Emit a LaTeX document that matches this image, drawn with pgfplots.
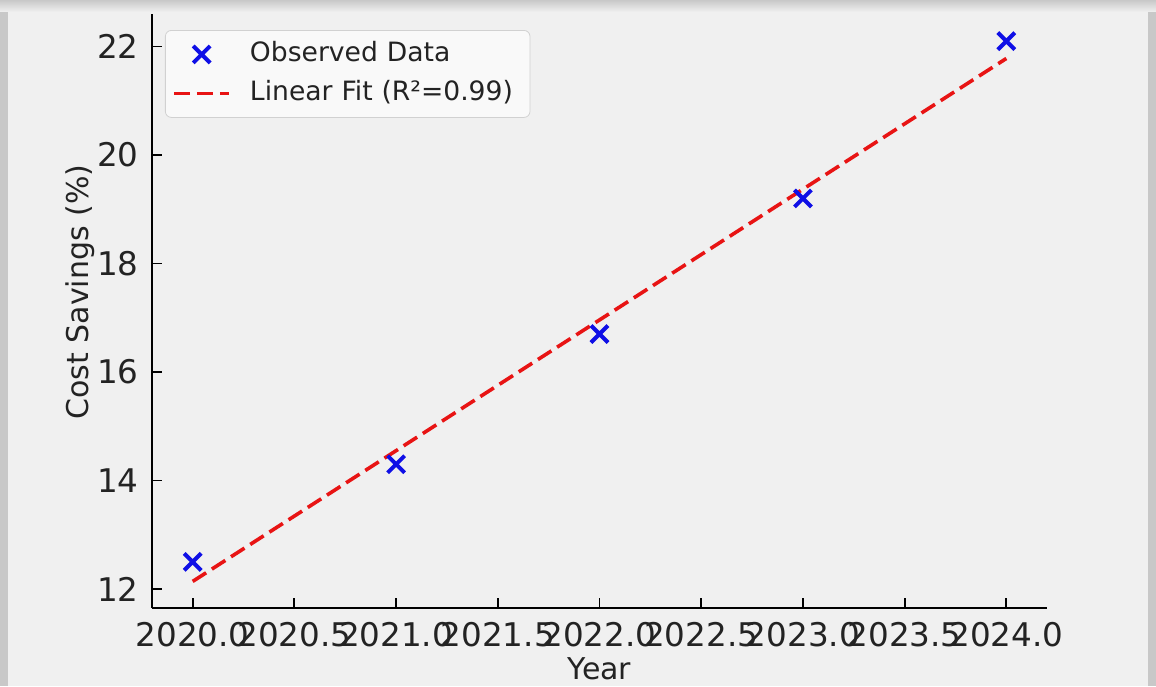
\documentclass[border=0pt]{standalone}
\usepackage{fontspec}
\setmainfont{DejaVu Sans}
\usepackage{pgfplots}
\pgfplotsset{compat=1.18}
\definecolor{panel}{RGB}{240,240,240}
\definecolor{shadowgray}{RGB}{200,200,200}
\definecolor{fitred}{RGB}{232,20,20}
\definecolor{obsblue}{RGB}{15,15,230}
\definecolor{txt}{RGB}{35,35,35}
\pgfplotsset{
  markleg/.style={legend image code/.code={\draw[##1] plot coordinates {(13.75pt,0pt)};}},
  lineleg/.style={legend image code/.code={\draw[##1] (0pt,0pt) -- (27.5pt,0pt);}},
}

\begin{document}
\begin{tikzpicture}
\fill[shadowgray] (0pt,0pt) rectangle (578pt,343pt);
\useasboundingbox (0pt,0pt) rectangle (578pt,343pt);
\shade[top color=shadowgray, bottom color=panel] (0pt,337pt) rectangle (578pt,343pt);
\fill[panel] (4pt,0pt) rectangle (574pt,337pt);
\begin{axis}[
  at={(76pt,39pt)}, anchor=south west,
  scale only axis, width=447.5pt, height=297pt,
  xmin=2019.8, xmax=2024.2, ymin=11.65, ymax=22.6,
  axis lines=left, axis line style={-, line width=1pt, black},
  tick align=inside, major tick length=5pt,
  tick style={line width=0.9pt, black},
  xtick={2020,2020.5,2021,2021.5,2022,2022.5,2023,2023.5,2024},
  xticklabels={2020.0,2020.5,2021.0,2021.5,2022.0,2022.5,2023.0,2023.5,2024.0},
  ytick={12,14,16,18,20,22},
  yticklabels={12,14,16,18,20,22},
  tick label style={font=\fontsize{16.3}{19}\selectfont, text=txt},
  xticklabel style={inner sep=0pt, yshift=-7pt},
  yticklabel style={inner sep=0pt, xshift=-6.5pt},
  xlabel={Year}, ylabel={Cost Savings (\%)},
  every axis x label/.style={at={(axis description cs:0.5,0)}, anchor=base,
    yshift=-35.5pt, font=\fontsize{15}{18}\selectfont, text=txt},
  every axis y label/.style={at={(axis description cs:-0.0805,0.532)}, anchor=center,
    rotate=90, font=\fontsize{15}{18}\selectfont, text=txt},
  legend cell align=left,
  legend style={at={(axis description cs:0.0145,0.973)}, anchor=north west,
    draw=black!18, fill=white, fill opacity=0.6, text opacity=1,
    rounded corners=3pt, font=\fontsize{13.3}{16}\selectfont, text=txt,
    inner xsep=3.5pt, inner ysep=4.5pt, row sep=4.5pt, column sep=8pt,
    nodes={inner sep=1.5pt, text height=9.5pt, text depth=2.5pt},
    /tikz/every even column/.append style={column sep=0pt},
    text width=135pt},
]
\addplot[only marks, mark=x, mark size=6pt, obsblue,
  mark options={line width=2pt}, markleg]
  coordinates {(2020,12.5) (2021,14.3) (2022,16.7) (2023,19.2) (2024,22.1)};
\addlegendentry{Observed Data}
\addplot[fitred, line width=1.8pt, dash pattern=on 8pt off 3.4pt, lineleg]
  coordinates {(2020,12.14) (2024,21.78)};
\addlegendentry{Linear Fit (R²=0.99)}
\end{axis}
\end{tikzpicture}
\end{document}
